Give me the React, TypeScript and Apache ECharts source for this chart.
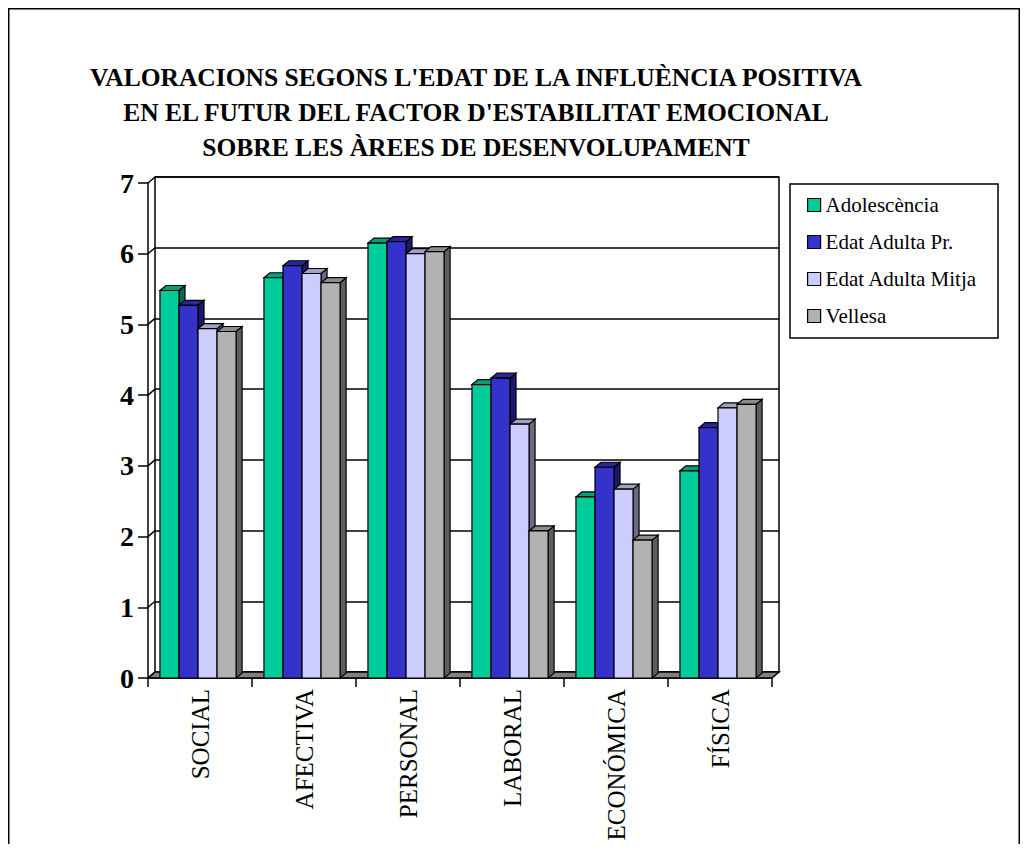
import React, { useEffect, useRef } from "react";
import * as echarts from "echarts";

const categories = ["SOCIAL", "AFECTIVA", "PERSONAL", "LABORAL", "ECONÓMICA", "FÍSICA"];
const seriesNames = ["Adolescència", "Edat Adulta Pr.", "Edat Adulta Mitja", "Vellesa"];
const adolescencia = [5.48, 5.66, 6.15, 4.15, 2.56, 2.93];
const edatAdultaPr = [5.27, 5.83, 6.17, 4.24, 2.98, 3.54];
const edatAdultaMitja = [4.94, 5.72, 6.0, 3.59, 2.67, 3.82];
const vellesa = [4.9, 5.59, 6.03, 2.08, 1.95, 3.87];
const yTicks = [0, 1, 2, 3, 4, 5, 6, 7];
const titleLines = [
  "VALORACIONS SEGONS L'EDAT DE LA INFLUÈNCIA POSITIVA",
  "EN EL FUTUR DEL FACTOR D'ESTABILITAT EMOCIONAL",
  "SOBRE LES ÀREES DE DESENVOLUPAMENT",
];

const FONT = "Liberation Serif";
const frontColors = ["#00CC99", "#3333CC", "#CCCCFF", "#B2B2B2"];
const topColors = ["#00A07A", "#27279E", "#A0A0C8", "#8C8C8C"];
const sideColors = ["#006B50", "#1A1A6B", "#6B6B85", "#5E5E5E"];

const WALL_DX = 7;
const WALL_DY = -6;
const BAR_DX = 6;
const BAR_DY = -5;

function barRenderer(k: number) {
  return (_params: any, api: any) => {
    const ci = api.value(0);
    const v = api.value(1);
    const top = api.coord([ci, v]);
    const base = api.coord([ci, 0]);
    const band = api.size([1, 0])[0];
    const catStart = base[0] - band / 2;
    const w = band * 0.183;
    const x = catStart + band * 0.115 + k * w;
    const yT = top[1];
    const yB = base[1];
    const stroke = { stroke: "#000", lineWidth: 1.2 };
    return {
      type: "group",
      children: [
        {
          type: "polygon",
          shape: {
            points: [
              [x + w, yB],
              [x + w + BAR_DX, yB + BAR_DY],
              [x + w + BAR_DX, yT + BAR_DY],
              [x + w, yT],
            ],
          },
          style: { fill: sideColors[k], ...stroke },
        },
        {
          type: "polygon",
          shape: {
            points: [
              [x, yT],
              [x + BAR_DX, yT + BAR_DY],
              [x + w + BAR_DX, yT + BAR_DY],
              [x + w, yT],
            ],
          },
          style: { fill: topColors[k], ...stroke },
        },
        {
          type: "rect",
          shape: { x, y: yT, width: w, height: yB - yT },
          style: { fill: frontColors[k], ...stroke },
        },
      ],
    };
  };
}

export default function App() {
  const ref = useRef<HTMLDivElement>(null);

  useEffect(() => {
    if (!ref.current) return;
    const chart = echarts.init(ref.current, null, { renderer: "svg" });
    const allSeries = [adolescencia, edatAdultaPr, edatAdultaMitja, vellesa];

    const option: any = {
      animation: false,
      backgroundColor: "#fff",
      textStyle: { fontFamily: FONT },
      grid: [
        {
          left: 140,
          top: 175,
          width: 624,
          height: 495,
          show: false,
          containLabel: false,
          outerBoundsMode: "none",
        },
        {
          left: 140 + WALL_DX,
          top: 175 + WALL_DY,
          width: 624,
          height: 495,
          show: true,
          containLabel: false,
          outerBoundsMode: "none",
          backgroundColor: "#fff",
          borderColor: "#000",
          borderWidth: 1.5,
        },
      ],
      xAxis: [
        {
          type: "category",
          gridIndex: 0,
          data: categories,
          axisLine: { show: true, lineStyle: { color: "#000", width: 1.5 } },
          axisTick: { show: true, length: 9, lineStyle: { color: "#000", width: 1.5 } },
          axisLabel: {
            rotate: 90,
            margin: 11,
            color: "#000",
            fontFamily: FONT,
            fontSize: 25,
          },
          splitLine: { show: false },
        },
        {
          type: "category",
          gridIndex: 1,
          data: categories,
          show: false,
        },
      ],
      yAxis: [
        {
          type: "value",
          gridIndex: 0,
          min: 0,
          max: 7,
          interval: 1,
          axisLine: { show: true, lineStyle: { color: "#000", width: 1.5 } },
          axisTick: { show: true, length: 10, lineStyle: { color: "#000", width: 1.5 } },
          axisLabel: {
            margin: 14,
            color: "#000",
            fontFamily: FONT,
            fontSize: 28,
            fontWeight: "bold",
          },
          splitLine: { show: false },
        },
        {
          type: "value",
          gridIndex: 1,
          min: 0,
          max: 7,
          interval: 1,
          axisLine: { show: false },
          axisTick: { show: false },
          axisLabel: { show: false },
          splitLine: { show: true, lineStyle: { color: "#000", width: 1.5 } },
        },
      ],
      legend: {
        orient: "vertical",
        left: 799,
        top: 186,
        padding: 0,
        itemWidth: 13,
        itemHeight: 13,
        itemGap: 15,
        icon: "rect",
        data: seriesNames,
        textStyle: { fontFamily: FONT, fontSize: 21, color: "#000", lineHeight: 22 },
        itemStyle: { borderColor: "#000", borderWidth: 1.2 },
      },
      graphic: [
        {
          type: "polyline",
          shape: { points: [[0.75, 836], [0.75, 0.75], [1011.25, 0.75], [1011.25, 836]] },
          style: { stroke: "#000", lineWidth: 1.5, fill: null },
          silent: true,
        },
        {
          type: "rect",
          shape: { x: 782, y: 176, width: 208, height: 154 },
          style: { fill: "#fff", stroke: "#000", lineWidth: 1.5 },
          silent: true,
        },
        ...titleLines.map((t, i) => ({
          type: "text",
          x: 468,
          y: 69 + i * 35,
          silent: true,
          style: {
            text: t,
            fill: "#000",
            fontFamily: FONT,
            fontSize: 25.5,
            fontWeight: "bold",
            textAlign: "center",
            textVerticalAlign: "middle",
          },
        })),
      ],
      series: [
        {
          type: "custom",
          name: "floor",
          xAxisIndex: 0,
          yAxisIndex: 0,
          silent: true,
          data: [[0, 0]],
          encode: { x: 0, y: 1 },
          renderItem: (_p: any, api: any) => {
            const band = api.size([1, 0])[0];
            const a = api.coord([0, 0]);
            const b = api.coord([categories.length - 1, 0]);
            const xl = a[0] - band / 2;
            const xr = b[0] + band / 2;
            const y0 = a[1];
            return {
              type: "polygon",
              shape: {
                points: [
                  [xl, y0],
                  [xr, y0],
                  [xr + WALL_DX, y0 + WALL_DY],
                  [xl + WALL_DX, y0 + WALL_DY],
                ],
              },
              style: { fill: "#808080", stroke: "#000", lineWidth: 1.5 },
            };
          },
        },
        {
          type: "custom",
          name: "sidewall",
          xAxisIndex: 0,
          yAxisIndex: 0,
          silent: true,
          data: yTicks.map((v) => [0, v]),
          encode: { x: 0, y: 1 },
          renderItem: (_p: any, api: any) => {
            const band = api.size([1, 0])[0];
            const p = api.coord([0, api.value(1)]);
            const xl = p[0] - band / 2;
            return {
              type: "line",
              shape: { x1: xl, y1: p[1], x2: xl + WALL_DX, y2: p[1] + WALL_DY },
              style: { stroke: "#000", lineWidth: 1.5 },
            };
          },
        },
        ...allSeries.map((vals, k) => ({
          type: "custom",
          name: seriesNames[k],
          xAxisIndex: 0,
          yAxisIndex: 0,
          itemStyle: { color: frontColors[k] },
          data: vals.map((v, i) => [i, v]),
          encode: { x: 0, y: 1 },
          renderItem: barRenderer(k),
        })),
      ],
    };

    chart.setOption(option);
    return () => chart.dispose();
  }, []);

  return <div ref={ref} style={{ width: 1012, height: 836 }} />;
}
